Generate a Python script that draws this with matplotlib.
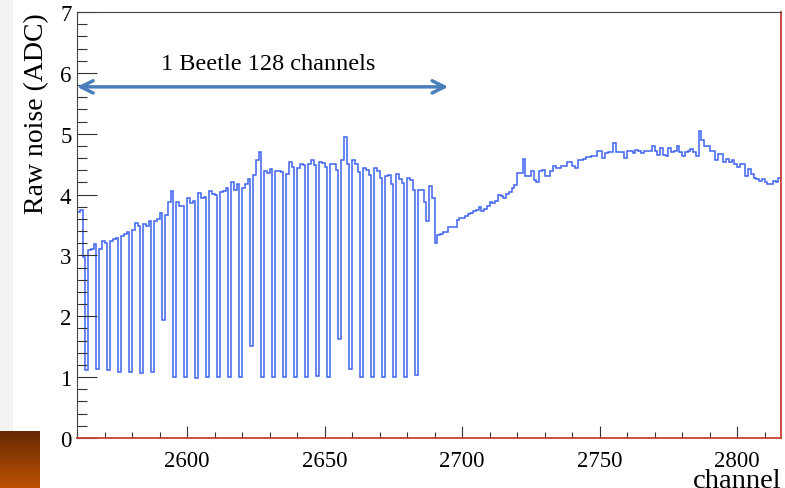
import numpy as np
import matplotlib.pyplot as plt
from matplotlib.patches import Rectangle
from matplotlib.ticker import MultipleLocator

plt.rcParams['font.family'] = ['Liberation Serif', 'DejaVu Serif']

# raw noise per channel, first entry is channel 2559
first_channel = 2559
noise = [
    1.46,
    3.71, 3.75, 2.98, 1.12, 3.09, 3.11, 3.19, 1.13, 3.11, 3.23, 3.20, 1.11,
    3.24, 3.27, 3.28, 1.09, 3.32, 3.35, 3.39, 1.08, 3.42, 3.53, 3.49, 1.07,
    3.52, 3.49, 3.57, 1.09, 3.57, 3.60, 3.69, 1.94, 3.67, 3.88, 4.06, 1.00,
    3.88, 3.81, 3.82, 1.00, 3.94, 3.86, 3.90, 0.98, 4.03, 3.95, 3.96, 1.00,
    4.06, 4.01, 4.00, 1.00, 4.05, 4.06, 4.11, 1.01, 4.21, 4.07, 4.18, 1.01,
    4.11, 4.17, 4.26, 1.51, 4.32, 4.56, 4.70, 1.00, 4.39, 4.35, 4.42, 1.00,
    4.38, 4.39, 4.37, 1.00, 4.34, 4.53, 4.46, 1.00, 4.43, 4.50, 4.49, 1.00,
    4.50, 4.56, 4.49, 1.02, 4.53, 4.52, 4.45, 1.00, 4.51, 4.51, 4.40, 1.62,
    4.56, 4.94, 4.50, 1.13, 4.57, 4.50, 4.37, 1.00, 4.43, 4.41, 4.32, 1.00,
    4.44, 4.38, 4.27, 1.00, 4.30, 4.32, 4.17, 1.01, 4.34, 4.26, 4.19, 1.00,
    4.27, 4.24, 4.07, 1.04, 4.08, 4.07, 3.88, 3.57, 4.14, 3.94, 3.20, 3.34,
    3.35, 3.38, 3.38, 3.46, 3.47, 3.47, 3.58, 3.61, 3.61, 3.64, 3.68, 3.69,
    3.73, 3.75, 3.79, 3.73, 3.76, 3.81, 3.88, 3.86, 3.90, 4.00, 3.98, 3.94,
    4.01, 4.05, 4.11, 4.16, 4.35, 4.35, 4.58, 4.31, 4.30, 4.39, 4.24, 4.21,
    4.39, 4.41, 4.30, 4.31, 4.39, 4.47, 4.43, 4.43, 4.47, 4.47, 4.53,
    4.53, 4.47, 4.44, 4.56, 4.56, 4.59, 4.61, 4.61, 4.64, 4.63, 4.72,
    4.72, 4.60, 4.68, 4.70, 4.70, 4.85, 4.70, 4.70, 4.70, 4.60, 4.71, 4.71,
    4.68, 4.74, 4.72, 4.68, 4.71, 4.71, 4.71, 4.80, 4.72, 4.65, 4.77, 4.65,
    4.64, 4.76, 4.70, 4.72, 4.79, 4.70, 4.64, 4.70, 4.72, 4.75, 4.70, 4.64,
    5.04, 4.89, 4.80, 4.79, 4.72, 4.72, 4.56, 4.67, 4.67, 4.53, 4.59, 4.53,
    4.57, 4.50, 4.45, 4.50, 4.50, 4.31, 4.42, 4.34, 4.28, 4.26, 4.23, 4.26,
    4.20, 4.17, 4.17, 4.23, 4.20, 4.28, 4.22, 4.30,
]
edges = np.arange(first_channel, first_channel + len(noise) + 1)

W, H = 785, 489
fig = plt.figure(figsize=(W / 100, H / 100), dpi=100)

# slide background pieces on the left
fig.patches.append(Rectangle((0, 0), 13 / W, 1, transform=fig.transFigure,
                             facecolor='#f3f3f3', edgecolor='none', zorder=-5))
sq = fig.add_axes([0, 0, 40 / W, 57 / H])
sq.set_zorder(2)
grad = np.linspace(0, 1, 64)[:, None, None]
top = np.array([0.40, 0.16, 0.02])
bot = np.array([0.74, 0.32, 0.00])
sq.imshow(top + (bot - top) * grad, aspect='auto')
sq.axis('off')

ax = fig.add_axes([77 / W, 50 / H, 704 / W, 426 / H])
ax.stairs(noise, edges, baseline=None, color='#3f63ee', lw=1.1)

ax.set_xlim(2560, 2816)
ax.set_ylim(0, 7)
ax.xaxis.set_major_locator(MultipleLocator(50))
ax.xaxis.set_minor_locator(MultipleLocator(10))
ax.yaxis.set_major_locator(MultipleLocator(1))
ax.yaxis.set_minor_locator(MultipleLocator(0.2))
ax.tick_params(which='both', direction='in', color='#333333', width=0.8,
               top=False, right=False, labelsize=16.5)
ax.tick_params(axis='y', which='major', length=14.4, pad=4)
ax.tick_params(axis='y', which='minor', length=7.2)
ax.tick_params(axis='x', which='major', length=8.6, pad=9)
ax.tick_params(axis='x', which='minor', length=4.3)

for side in ('left', 'top'):
    ax.spines[side].set_color('#444444')
for side in ('bottom', 'right'):
    ax.spines[side].set_color('#c8412f')
    ax.spines[side].set_linewidth(1.3)

ax.set_ylabel('Raw noise (ADC)', fontsize=20, loc='top')
ax.yaxis.set_label_coords(-0.040, 1.0)
ax.set_xlabel('channel', fontsize=20.5, loc='right')
ax.xaxis.set_label_coords(1.0, -0.071)

# one Beetle chip span
ax.annotate('', xy=(2560, 5.77), xytext=(2695, 5.77),
            arrowprops=dict(arrowstyle='<->', color='#4a7ebb', lw=2.5,
                            mutation_scale=22, shrinkA=0, shrinkB=0),
            annotation_clip=False)
ax.text(2629.5, 6.16, '1 Beetle 128 channels', fontsize=17.5,
        ha='center', va='center')

fig.savefig('out.png', dpi=100)
